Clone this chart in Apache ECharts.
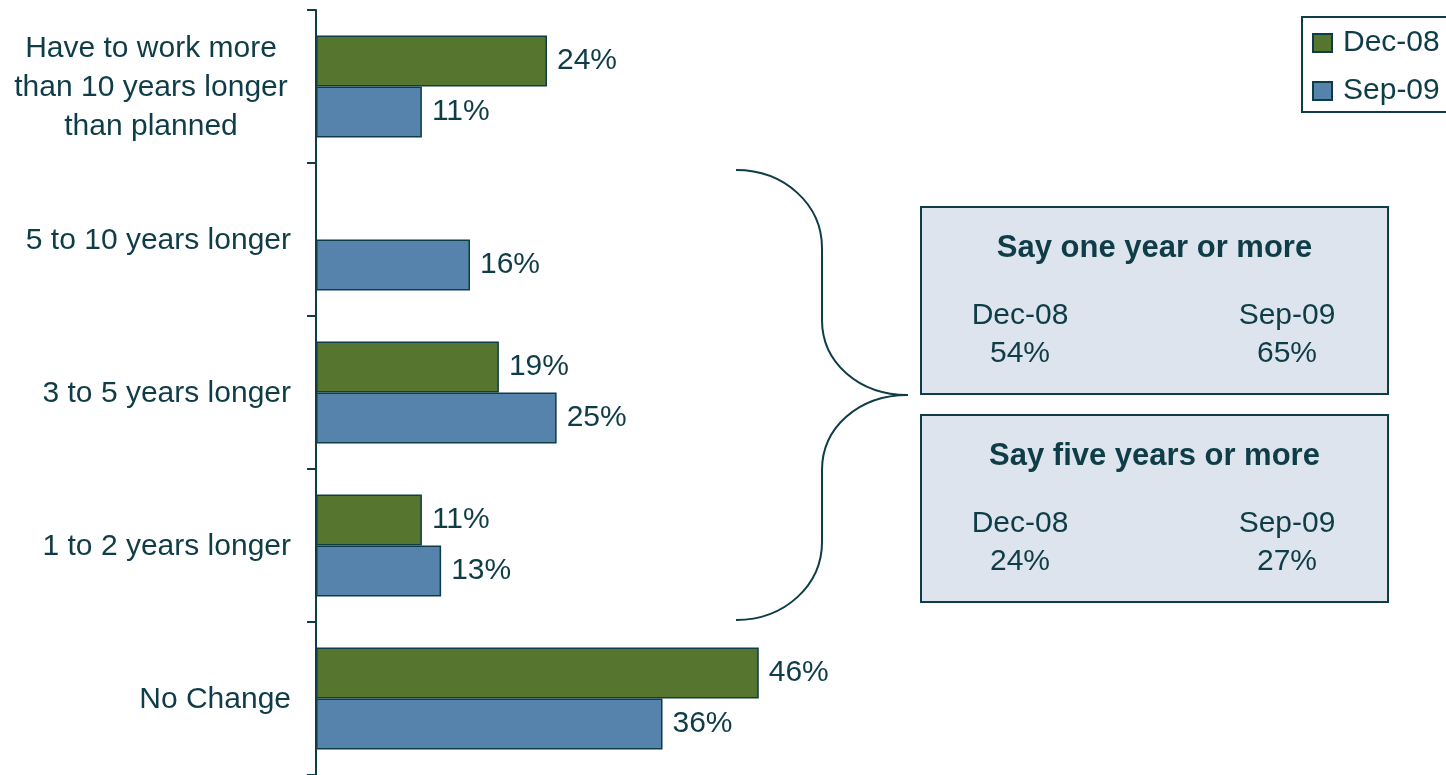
<!DOCTYPE html>
<html>
<head>
<meta charset="utf-8">
<script src="https://cdn.jsdelivr.net/npm/echarts@6/dist/echarts.min.js"></script>
<style>
  html, body { margin: 0; padding: 0; background: #ffffff; }
  #chart { width: 1446px; height: 775px; }
</style>
</head>
<body>
<div id="chart"></div>
<script>
// Expected change in retirement timing, two survey waves
const categories = [
  'Have to work more\nthan 10 years longer\nthan planned',
  '5 to 10 years longer',
  '3 to 5 years longer',
  '1 to 2 years longer',
  'No Change'
];
const seriesNames = ['Dec-08', 'Sep-09'];
const dec08 = [24, null, 19, 11, 46];
const sep09 = [11, 16, 25, 13, 36];

// Summary boxes to the right of the brace
const summaryTitles = ['Say one year or more', 'Say five years or more'];
const summaryDec08 = [54, 24];
const summarySep09 = [65, 27];

const INK = '#0e3c47';
const GREEN = '#56752f';
const BLUE = '#5583ab';
const FONT = '"Liberation Sans", Arial, Helvetica, sans-serif';
const FS = 30;

const chart = echarts.init(document.getElementById('chart'), null, { renderer: 'canvas' });

function categoryLabel(v) {
  if (v.indexOf('\n') < 0) return v;
  return v.split('\n').map(function (s) { return '{c|' + s + '}'; }).join('\n');
}

// Summary box graphics
const boxX = 921, boxW = 467, boxH = 187;
const boxTops = [207, 415];
const summaryGraphics = [];
summaryTitles.forEach(function (title, i) {
  const top = boxTops[i];
  summaryGraphics.push({
    type: 'rect',
    shape: { x: boxX, y: top, width: boxW, height: boxH },
    style: { fill: '#dde4ed', stroke: INK, lineWidth: 2 },
    z: 10
  });
  const items = [
    { t: title, x: boxX + boxW / 2, y: top + 41, bold: true },
    { t: seriesNames[0], x: 1020, y: top + 109 },
    { t: summaryDec08[i] + '%', x: 1020, y: top + 147 },
    { t: seriesNames[1], x: 1287, y: top + 109 },
    { t: summarySep09[i] + '%', x: 1287, y: top + 147 }
  ];
  items.forEach(function (it) {
    summaryGraphics.push({
      type: 'text',
      x: it.x,
      y: it.y,
      z: 11,
      style: {
        text: it.t,
        fill: INK,
        fontFamily: FONT,
        fontSize: it.bold ? 31 : FS,
        fontWeight: it.bold ? 'bold' : 'normal',
        align: 'center',
        verticalAlign: 'middle'
      }
    });
  });
});

// Curly brace grouping the "longer" categories
const braceStyle = { fill: null, stroke: INK, lineWidth: 2 };
const braceParts = [
  { type: 'bezierCurve', shape: { x1: 736, y1: 170, cpx1: 785, cpy1: 170, cpx2: 822, cpy2: 205, x2: 822, y2: 248 } },
  { type: 'line', shape: { x1: 822, y1: 248, x2: 822, y2: 320 } },
  { type: 'bezierCurve', shape: { x1: 822, y1: 320, cpx1: 822, cpy1: 362, cpx2: 858, cpy2: 395, x2: 908, y2: 395 } },
  { type: 'bezierCurve', shape: { x1: 908, y1: 395, cpx1: 858, cpy1: 395, cpx2: 822, cpy2: 428, x2: 822, y2: 470 } },
  { type: 'line', shape: { x1: 822, y1: 470, x2: 822, y2: 542 } },
  { type: 'bezierCurve', shape: { x1: 822, y1: 542, cpx1: 822, cpy1: 585, cpx2: 785, cpy2: 620, x2: 736, y2: 620 } }
].map(function (p) { p.style = braceStyle; p.z = 10; return p; });

const valueLabel = {
  show: true,
  position: 'right',
  distance: 10,
  color: INK,
  fontSize: FS,
  fontFamily: FONT,
  padding: [3, 0, 0, 0],
  formatter: '{c}%'
};

const option = {
  animation: false,
  backgroundColor: '#ffffff',
  textStyle: { fontFamily: FONT },
  legend: {
    data: seriesNames,
    orient: 'vertical',
    left: 1302,
    top: 17,
    icon: 'rect',
    itemWidth: 19,
    itemHeight: 18,
    itemGap: 18,
    padding: [11, 40, 6, 10],
    borderColor: INK,
    borderWidth: 2,
    textStyle: { color: INK, fontSize: FS, fontFamily: FONT, lineHeight: 30, padding: [0, 0, 0, 6] }
  },
  grid: { left: 316, top: 10, width: 962.5, bottom: 0, containLabel: false },
  xAxis: {
    type: 'value',
    min: 0,
    max: 100,
    show: false,
    splitLine: { show: false }
  },
  yAxis: {
    type: 'category',
    inverse: true,
    data: categories,
    axisLine: { show: true, lineStyle: { color: INK, width: 2 } },
    axisTick: { show: true, length: 9, lineStyle: { color: INK, width: 2 } },
    axisLabel: {
      interval: 0,
      margin: 25,
      color: INK,
      fontSize: FS,
      fontFamily: FONT,
      lineHeight: 39,
      padding: [3, 0, 0, 0],
      formatter: categoryLabel,
      rich: {
        c: { width: 280, align: 'center', fontSize: FS, fontFamily: FONT, color: INK, lineHeight: 39 }
      }
    },
    splitLine: { show: false }
  },
  series: [
    {
      name: seriesNames[0],
      type: 'bar',
      data: dec08,
      barWidth: 51,
      barGap: '0%',
      itemStyle: { color: GREEN, borderColor: INK, borderWidth: 1.5 },
      label: valueLabel
    },
    {
      name: seriesNames[1],
      type: 'bar',
      data: sep09,
      barWidth: 51,
      barGap: '0%',
      itemStyle: { color: BLUE, borderColor: INK, borderWidth: 1.5 },
      label: valueLabel
    }
  ],
  graphic: braceParts.concat(summaryGraphics)
};

chart.setOption(option);
</script>
</body>
</html>
